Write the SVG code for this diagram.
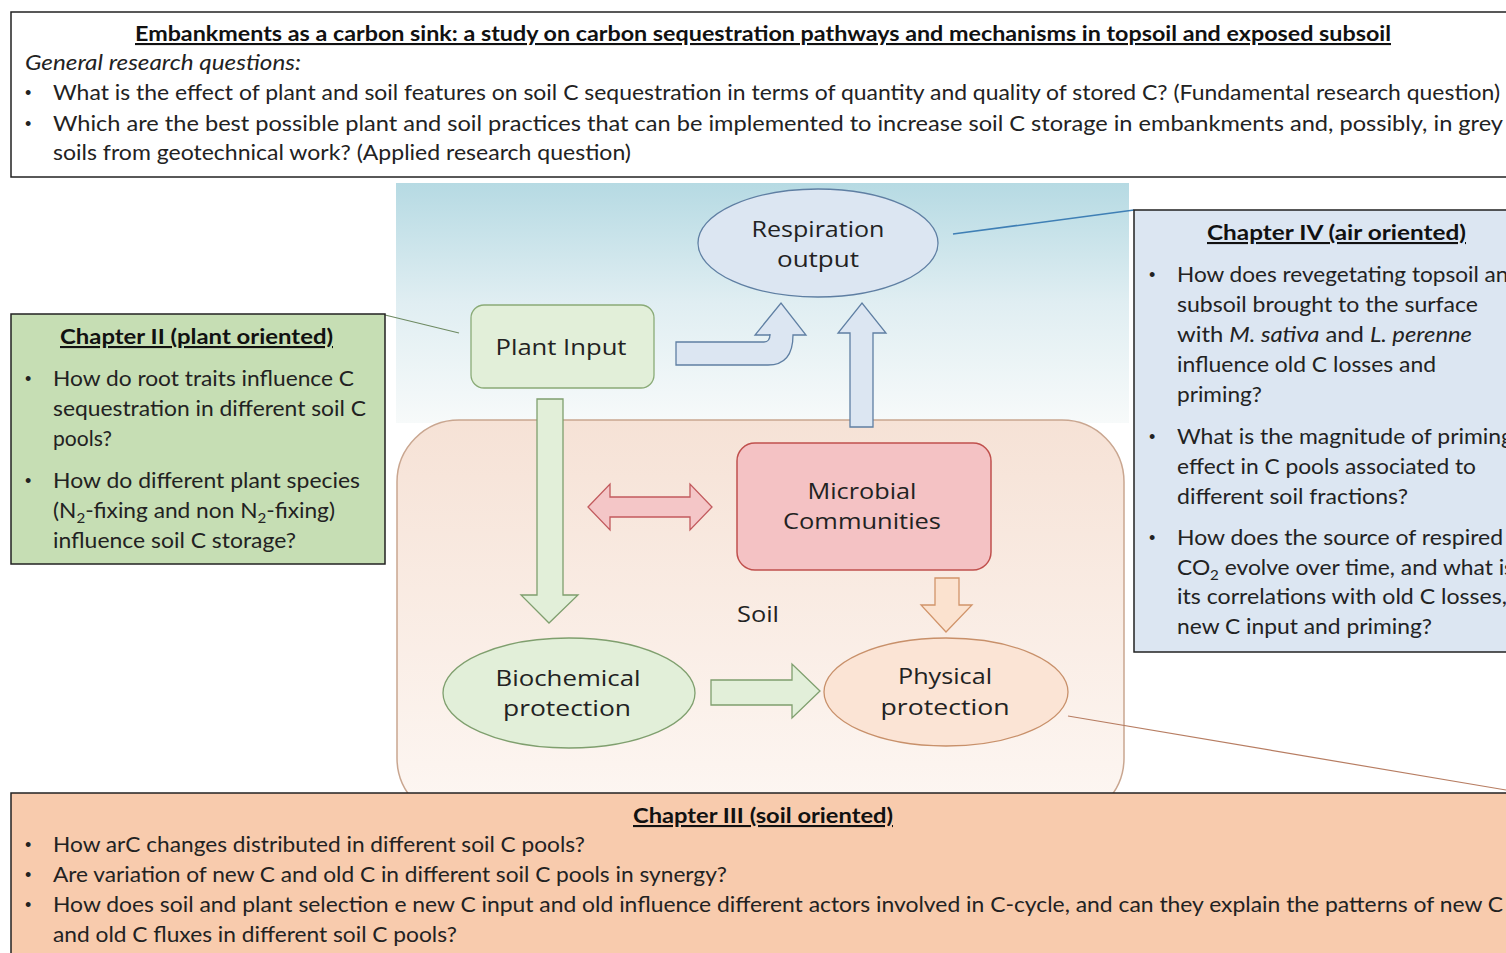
<svg xmlns="http://www.w3.org/2000/svg" width="1506" height="953" viewBox="0 0 1506 953">
<defs>
<linearGradient id="sky" x1="0" y1="0" x2="0" y2="1">
<stop offset="0" stop-color="#b6dae3"/>
<stop offset="0.5" stop-color="#e0eef2"/>
<stop offset="1" stop-color="#f7fafa"/>
</linearGradient>
<linearGradient id="soilg" x1="0" y1="0" x2="0" y2="1">
<stop offset="0" stop-color="#f6e2d6"/>
<stop offset="1" stop-color="#fdf7f3"/>
</linearGradient>
<style>
.q{font-family:Lato,"Liberation Sans",sans-serif;font-size:21px;fill:#222}
.t{font-family:Lato,"Liberation Sans",sans-serif;font-size:21px;font-weight:bold;fill:#111;text-decoration:underline}
.n{font-family:"Open Sans","DejaVu Sans",sans-serif;font-size:22px;fill:#222;text-anchor:middle}
.box{stroke:#222;stroke-width:1.5}
.bul{font-family:"Liberation Sans",sans-serif;font-size:18px;fill:#222}
</style>
</defs>
<rect width="1506" height="953" fill="#ffffff"/>

<g id="header">
<rect x="11" y="12" width="1510" height="165" fill="#ffffff" class="box"/>
<text class="t" x="135" y="41" textLength="1256" lengthAdjust="spacingAndGlyphs">Embankments as a carbon sink: a study on carbon sequestration pathways and mechanisms in topsoil and exposed subsoil</text>
<text class="q" x="25" y="70" font-style="italic" textLength="276" lengthAdjust="spacingAndGlyphs">General research questions:</text>
<text class="bul" x="25" y="99">•</text>
<text class="q" x="53" y="100" textLength="1447" lengthAdjust="spacingAndGlyphs">What is the effect of plant and soil features on soil C sequestration in terms of quantity and quality of stored C? (Fundamental research question)</text>
<text class="bul" x="25" y="130">•</text>
<text class="q" x="53" y="131" textLength="1450" lengthAdjust="spacingAndGlyphs">Which are the best possible plant and soil practices that can be implemented to increase soil C storage in embankments and, possibly, in grey</text>
<text class="q" x="53" y="160" textLength="578" lengthAdjust="spacingAndGlyphs">soils from geotechnical work?  (Applied research question)</text>
</g>

<g id="sky">
<rect x="396" y="183" width="733" height="240" fill="url(#sky)"/>
</g>
<g id="soil">
<rect x="397" y="420" width="727" height="400" rx="62" ry="62" fill="url(#soilg)" stroke="#c9a690" stroke-width="1.5"/>
<text class="n" x="758" y="622" font-size="26" textLength="42" lengthAdjust="spacingAndGlyphs">Soil</text>
</g>

<g id="connectors">
<path d="M676,342 L764,342 Q770,342 770,334 L770,335 L755,335 L781,303 L806,335 L793,335 Q793,365 768,365 L676,365 Z" fill="#dce6f2" stroke="#5f7fa3" stroke-width="1.3"/>
<path d="M850,427 L850,333 L838,333 L862,303 L886,333 L873,333 L873,427 Z" fill="#dce6f2" stroke="#5f7fa3" stroke-width="1.3"/>
<path d="M537,399 L563,399 L563,595 L578,595 L549,623 L521,595 L537,595 Z" fill="#e2efd9" stroke="#7f9f6e" stroke-width="1.3"/>
<path d="M588,507 L610,484 L610,497 L690,497 L690,484 L712,507 L690,530 L690,517 L610,517 L610,530 Z" fill="#f4c6c7" stroke="#c25a5d" stroke-width="1.3"/>
<path d="M935,578 L959,578 L959,605 L972,605 L946,632 L921,605 L935,605 Z" fill="#fbe2cf" stroke="#d1946a" stroke-width="1.3"/>
<path d="M711,680 L792,680 L792,664 L820,691 L792,718 L792,705 L711,705 Z" fill="#e2efd9" stroke="#7f9f6e" stroke-width="1.3"/>
<line x1="385" y1="315" x2="459" y2="333" stroke="#6e8a62" stroke-width="1.2"/>
<line x1="953" y1="234" x2="1134" y2="210" stroke="#3f7fb5" stroke-width="1.5"/>
<line x1="1068" y1="716" x2="1506" y2="790" stroke="#b77d62" stroke-width="1.2"/>
</g>

<g id="respiration">
<ellipse cx="818" cy="243" rx="120" ry="54" fill="#dce6f2" stroke="#5f7fa3" stroke-width="1.3"/>
<text class="n" x="818" y="237" textLength="133" lengthAdjust="spacingAndGlyphs">Respiration</text>
<text class="n" x="818" y="267" textLength="82" lengthAdjust="spacingAndGlyphs">output</text>
</g>

<g id="plant-input">
<rect x="471" y="305" width="183" height="83" rx="13" fill="#e2efd9" stroke="#8aab77" stroke-width="1.3"/>
<text class="n" x="561" y="355" font-size="24" textLength="131" lengthAdjust="spacingAndGlyphs">Plant Input</text>
</g>

<g id="microbial">
<rect x="737" y="443" width="254" height="127" rx="18" fill="#f4c2c4" stroke="#c0504d" stroke-width="1.5"/>
<text class="n" x="862" y="499" textLength="109" lengthAdjust="spacingAndGlyphs">Microbial</text>
<text class="n" x="862" y="529" textLength="158" lengthAdjust="spacingAndGlyphs">Communities</text>
</g>

<g id="biochemical">
<ellipse cx="569" cy="693" rx="126" ry="55" fill="#e2efd9" stroke="#7f9f6e" stroke-width="1.3"/>
<text class="n" x="568" y="686" textLength="145" lengthAdjust="spacingAndGlyphs">Biochemical</text>
<text class="n" x="567" y="716" textLength="128" lengthAdjust="spacingAndGlyphs">protection</text>
</g>

<g id="physical">
<ellipse cx="946" cy="692" rx="122" ry="54" fill="#fbe4d5" stroke="#c8906a" stroke-width="1.3"/>
<text class="n" x="945" y="684" textLength="94" lengthAdjust="spacingAndGlyphs">Physical</text>
<text class="n" x="945" y="715" textLength="129" lengthAdjust="spacingAndGlyphs">protection</text>
</g>

<g id="chapter2">
<rect x="11" y="314" width="374" height="250" fill="#c6deb4" class="box"/>
<text class="t" x="60" y="344" textLength="273" lengthAdjust="spacingAndGlyphs">Chapter II (plant oriented)</text>
<text class="bul" x="25" y="385">•</text>
<text class="q" x="53" y="386" textLength="301" lengthAdjust="spacingAndGlyphs">How do root traits influence C</text>
<text class="q" x="53" y="416" textLength="313" lengthAdjust="spacingAndGlyphs">sequestration in different soil C</text>
<text class="q" x="53" y="446" textLength="59" lengthAdjust="spacingAndGlyphs">pools?</text>
<text class="bul" x="25" y="487">•</text>
<text class="q" x="53" y="488" textLength="307" lengthAdjust="spacingAndGlyphs">How do different plant species</text>
<text class="q" x="53" y="518" textLength="282" lengthAdjust="spacingAndGlyphs">(N<tspan font-size="14" dy="5">2</tspan><tspan dy="-5">-fixing and non N</tspan><tspan font-size="14" dy="5">2</tspan><tspan dy="-5">-fixing)</tspan></text>
<text class="q" x="53" y="548" textLength="243" lengthAdjust="spacingAndGlyphs">influence soil C storage?</text>
</g>

<g id="chapter4">
<rect x="1134" y="210" width="390" height="442" fill="#dce6f2" class="box"/>
<text class="t" x="1207" y="240" textLength="259" lengthAdjust="spacingAndGlyphs">Chapter  IV (air oriented)</text>
<text class="bul" x="1149" y="281">•</text>
<text class="q" x="1177" y="282" textLength="344" lengthAdjust="spacingAndGlyphs">How does revegetating topsoil and</text>
<text class="q" x="1177" y="312" textLength="301" lengthAdjust="spacingAndGlyphs">subsoil brought to the surface</text>
<text class="q" x="1177" y="342" textLength="295" lengthAdjust="spacingAndGlyphs">with <tspan font-style="italic">M. sativa</tspan> and <tspan font-style="italic">L. perenne</tspan></text>
<text class="q" x="1177" y="372" textLength="259" lengthAdjust="spacingAndGlyphs">influence old C losses and</text>
<text class="q" x="1177" y="402" textLength="85" lengthAdjust="spacingAndGlyphs">priming?</text>
<text class="bul" x="1149" y="443">•</text>
<text class="q" x="1177" y="444" textLength="336" lengthAdjust="spacingAndGlyphs">What is the magnitude of priming</text>
<text class="q" x="1177" y="474" textLength="299" lengthAdjust="spacingAndGlyphs">effect in C pools associated to</text>
<text class="q" x="1177" y="504" textLength="231" lengthAdjust="spacingAndGlyphs">different soil fractions?</text>
<text class="bul" x="1149" y="544">•</text>
<text class="q" x="1177" y="545" textLength="326" lengthAdjust="spacingAndGlyphs">How does the source of respired</text>
<text class="q" x="1177" y="575" textLength="337" lengthAdjust="spacingAndGlyphs">CO<tspan font-size="14" dy="5">2</tspan><tspan dy="-5"> evolve over time, and what is</tspan></text>
<text class="q" x="1177" y="604" textLength="330" lengthAdjust="spacingAndGlyphs">its correlations with old C losses,</text>
<text class="q" x="1177" y="634" textLength="255" lengthAdjust="spacingAndGlyphs">new C input and priming?</text>
</g>

<g id="chapter3">
<rect x="11" y="793" width="1510" height="180" fill="#f8cbad" class="box"/>
<text class="t" x="633" y="823" textLength="260" lengthAdjust="spacingAndGlyphs">Chapter III (soil oriented)</text>
<text class="bul" x="25" y="851">•</text>
<text class="q" x="53" y="852" textLength="532" lengthAdjust="spacingAndGlyphs">How arC changes distributed in different soil C pools?</text>
<text class="bul" x="25" y="881">•</text>
<text class="q" x="53" y="882" textLength="674" lengthAdjust="spacingAndGlyphs">Are variation of new C and old C in different soil C pools in synergy?</text>
<text class="bul" x="25" y="911">•</text>
<text class="q" x="53" y="912" textLength="1450" lengthAdjust="spacingAndGlyphs">How does soil and plant selection e new C input and old influence different actors involved in C-cycle, and can they explain the patterns of new C</text>
<text class="q" x="53" y="942" textLength="404" lengthAdjust="spacingAndGlyphs">and old C fluxes in different soil C pools?</text>
</g>
</svg>
